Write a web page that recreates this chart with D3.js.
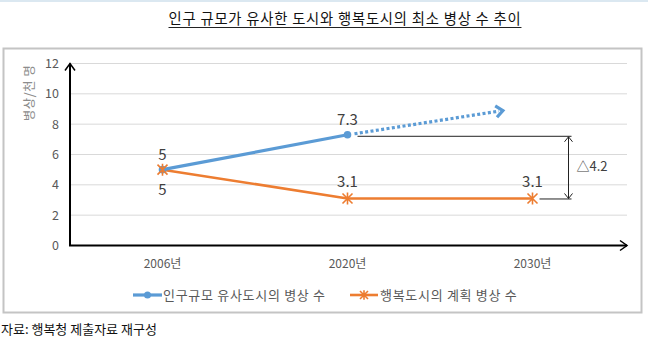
<!DOCTYPE html>
<html>
<head>
<meta charset="utf-8">
<script src="https://cdn.jsdelivr.net/npm/d3@7"></script>
<style>
  html, body { margin: 0; padding: 0; background: #fff; }
  svg { display: block; font-family: "Noto Sans CJK KR", "Noto Sans", sans-serif; }
</style>
</head>
<body>
<svg id="chart" width="648" height="338"></svg>
<script>
// Years on the category axis
const years = ["2006년", "2020년", "2030년"];
// Beds per 1,000 people in cities of similar population size (no 2030 value)
const similarCities = [5, 7.3, null];
// Planned beds per 1,000 people in the Happy City
const happyCity = [5, 3.1, 3.1];
// Projected trend for similar cities after 2020 (value at arrow tip)
const similarTrendEnd = 8.9;
// Y axis ticks
const yTicks = [0, 2, 4, 6, 8, 10, 12];
const seriesNames = ["인구규모 유사도시의 병상 수", "행복도시의 계획 병상 수"];
const titleText = "인구 규모가 유사한 도시와 행복도시의 최소 병상 수 추이";
const yAxisTitle = "병상/천 명";
const sourceText = "자료: 행복청 제출자료 재구성";

const blue = "#5b9bd5", orange = "#ed7d31";
const svg = d3.select("#chart");

// thin light band at the very top
svg.append("rect").attr("x", 0).attr("y", 0).attr("width", 648).attr("height", 2).attr("fill", "#dbe8f1");

// title, underlined
const title = svg.append("text")
  .attr("x", 345).attr("y", 24).attr("text-anchor", "middle")
  .attr("font-size", 14.3).attr("letter-spacing", 0.8).attr("fill", "#111")
  .text(titleText);
const tb = title.node().getBBox();
svg.append("line").attr("x1", tb.x).attr("x2", tb.x + tb.width)
  .attr("y1", 27.5).attr("y2", 27.5).attr("stroke", "#222").attr("stroke-width", 1);

// chart frame
svg.append("rect").attr("x", 3.5).attr("y", 48.5).attr("width", 638).attr("height", 264)
  .attr("fill", "none").attr("stroke", "#c4c4c4").attr("stroke-width", 2);

const x0 = 70, x1 = 625;
const x = d3.scaleBand().domain(years).range([x0, x1]);
const xc = d => x(d) + x.bandwidth() / 2;
const y = d3.scaleLinear().domain([0, 12]).range([245.5, 63.5]);

// gridlines
svg.append("g").selectAll("line").data(yTicks.filter(t => t > 0)).join("line")
  .attr("x1", x0).attr("x2", 627).attr("y1", d => y(d)).attr("y2", d => y(d))
  .attr("stroke", "#d9d9d9").attr("stroke-width", 1);

// y axis tick labels
const yAxis = d3.axisLeft(y).tickValues(yTicks).tickSize(0).tickPadding(11);
const gy = svg.append("g").attr("transform", `translate(${x0},0)`).call(yAxis);
gy.select(".domain").remove();
gy.selectAll("text").attr("font-size", 12.5).attr("fill", "#595959")
  .attr("font-family", "'Noto Sans CJK KR', sans-serif");

// x axis tick labels
const xAxis = d3.axisBottom(x).tickSize(0).tickPadding(14);
const gx = svg.append("g").attr("transform", `translate(0,${y(0)})`).call(xAxis);
gx.select(".domain").remove();
gx.selectAll("text").attr("font-size", 12).attr("fill", "#595959")
  .attr("font-family", "'Noto Sans CJK KR', sans-serif");

// axis lines with open arrowheads
const axisG = svg.append("g").attr("stroke", "#000").attr("fill", "none");
axisG.append("line").attr("x1", x0).attr("x2", x0).attr("y1", y(0) + 0.5).attr("y2", y(12))
  .attr("stroke-width", 2);
axisG.append("path").attr("d", `M${x0 - 5},${y(12) + 7}L${x0},${y(12)}L${x0 + 5},${y(12) + 7}`)
  .attr("stroke-width", 1.5);
axisG.append("line").attr("x1", x0 - 1).attr("x2", 627).attr("y1", y(0)).attr("y2", y(0))
  .attr("stroke-width", 2);
axisG.append("path").attr("d", `M620,${y(0) - 5}L627,${y(0)}L620,${y(0) + 5}`)
  .attr("stroke-width", 1.5);

// y axis title
svg.append("text")
  .attr("transform", `translate(34,93) rotate(-90)`)
  .attr("text-anchor", "middle").attr("font-size", 12.5).attr("letter-spacing", 0.5).attr("fill", "#8c8c8c")
  .text(yAxisTitle);

// projected trend for similar cities (dotted, with arrowhead)
const i20 = years.indexOf("2020년"), i30 = years.indexOf("2030년");
const trendX0 = xc(years[i20]) + 7;
const trendX1 = xc(years[i20]) + 0.84 * (xc(years[i30]) - xc(years[i20]));
const trendY0 = y(similarCities[i20]) - 1;
const trendY1 = y(similarTrendEnd);
svg.append("line").attr("x1", trendX0).attr("y1", trendY0).attr("x2", trendX1 - 4).attr("y2", trendY1 + 0.6)
  .attr("stroke", blue).attr("stroke-width", 3.2).attr("stroke-dasharray", "3,2.4");
const ang = Math.atan2(trendY1 - trendY0, trendX1 - trendX0);
const ah = (a, r) => [trendX1 + r * Math.cos(a), trendY1 + r * Math.sin(a)];
const p1 = ah(ang + Math.PI - 0.7, 9), p2 = ah(ang + Math.PI + 0.7, 9);
svg.append("path").attr("d", `M${p1}L${trendX1},${trendY1}L${p2}`)
  .attr("fill", "none").attr("stroke", blue).attr("stroke-width", 3.2);

// difference annotation between 2020 values
const gap = +(similarCities[i20] - happyCity[i20]).toFixed(1);
const annX = xc(years[i30]) + 37;
const ann = svg.append("g").attr("stroke", "#222").attr("fill", "none").attr("stroke-width", 1);
ann.append("line").attr("x1", xc(years[i20]) + 10).attr("x2", annX + 2)
  .attr("y1", y(similarCities[i20]) + 1.5).attr("y2", y(similarCities[i20]) + 1.5);
ann.append("line").attr("x1", xc(years[i30]) + 7).attr("x2", annX + 2)
  .attr("y1", y(happyCity[i30]) + 0.5).attr("y2", y(happyCity[i30]) + 0.5);
ann.append("line").attr("x1", annX - 1).attr("x2", annX - 1)
  .attr("y1", y(similarCities[i20]) + 2).attr("y2", y(happyCity[i30]));
ann.append("path").attr("d", `M${annX - 5},${y(similarCities[i20]) + 7}L${annX - 1},${y(similarCities[i20]) + 2}L${annX + 3},${y(similarCities[i20]) + 7}`);
ann.append("path").attr("d", `M${annX - 5},${y(happyCity[i30]) - 5}L${annX - 1},${y(happyCity[i30])}L${annX + 3},${y(happyCity[i30]) - 5}`);
svg.append("text").attr("x", annX + 7).attr("y", (y(similarCities[i20]) + y(happyCity[i30])) / 2 + 4)
  .attr("font-size", 13).attr("fill", "#404040").text("△" + gap);

// series lines
const line = d3.line().defined(d => d.v != null).x(d => xc(d.k)).y(d => y(d.v));
const happyPts = years.map((k, i) => ({ k, v: happyCity[i] }));
const similarPts = years.map((k, i) => ({ k, v: similarCities[i] }));
svg.append("path").datum(happyPts).attr("d", line)
  .attr("fill", "none").attr("stroke", orange).attr("stroke-width", 2.6);
svg.append("path").datum(similarPts).attr("d", line)
  .attr("fill", "none").attr("stroke", blue).attr("stroke-width", 3.2);

// markers
function starMarker(g, cx, cy, r) {
  g.append("path")
    .attr("d", `M${cx - r},${cy - r}L${cx + r},${cy + r}M${cx - r},${cy + r}L${cx + r},${cy - r}M${cx},${cy - r * 1.2}L${cx},${cy + r * 1.2}`)
    .attr("stroke", orange).attr("stroke-width", 1.6).attr("fill", "none");
}
svg.append("g").selectAll("circle").data(similarPts.filter(d => d.v != null)).join("circle")
  .attr("cx", d => xc(d.k)).attr("cy", d => y(d.v)).attr("r", 3.8).attr("fill", blue);
const mk = svg.append("g");
happyPts.forEach(d => starMarker(mk, xc(d.k), y(d.v), 5));

// value labels
const lab = svg.append("g").attr("font-size", 15).attr("fill", "#404040").attr("text-anchor", "middle");
similarPts.filter(d => d.v != null).forEach(d => {
  lab.append("text").attr("x", xc(d.k)).attr("y", y(d.v) - 10).text(d.v);
});
happyPts.forEach((d, i) => {
  const below = happyCity[i] === similarCities[i];
  lab.append("text").attr("x", xc(d.k)).attr("y", below ? y(d.v) + 25 : y(d.v) - 11).text(d.v);
});

// legend
const lg = svg.append("g").attr("font-size", 13).attr("letter-spacing", 0.7).attr("fill", "#595959");
lg.append("line").attr("x1", 133).attr("x2", 162).attr("y1", 295).attr("y2", 295)
  .attr("stroke", blue).attr("stroke-width", 3.2);
lg.append("circle").attr("cx", 147.5).attr("cy", 295).attr("r", 3.5).attr("fill", blue);
lg.append("text").attr("x", 163).attr("y", 299.5).text(seriesNames[0]);
lg.append("line").attr("x1", 350).attr("x2", 378).attr("y1", 295).attr("y2", 295)
  .attr("stroke", orange).attr("stroke-width", 2.6);
starMarker(lg, 364, 295, 4);
lg.append("text").attr("x", 380).attr("y", 299.5).text(seriesNames[1]);

// source note
svg.append("text").attr("x", 1).attr("y", 334).attr("font-size", 13).attr("fill", "#111")
  .text(sourceText);
</script>
</body>
</html>
